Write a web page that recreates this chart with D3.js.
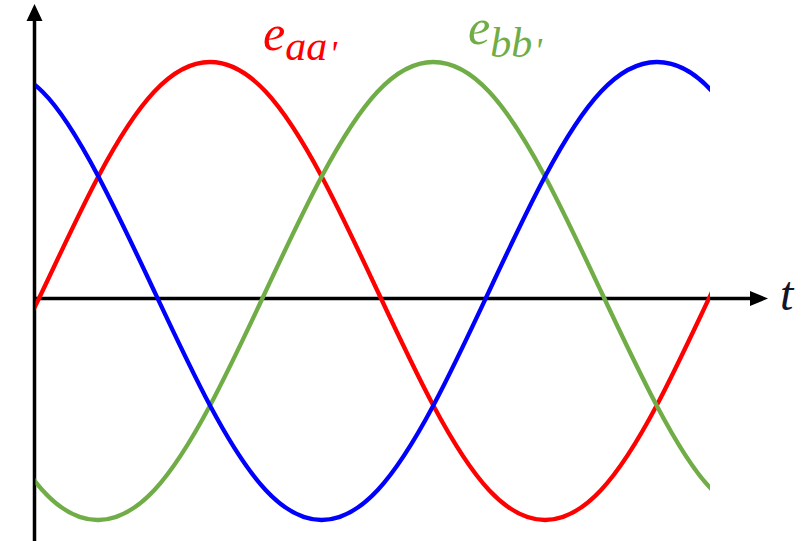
<!DOCTYPE html>
<html>
<head>
<meta charset="utf-8">
<script src="https://cdn.jsdelivr.net/npm/d3@7"></script>
<style>
body{margin:0;background:#fff;overflow:hidden}
</style>
</head>
<body>
<div id="Canvas"></div>
<script>
// 角度 (度) - every 30 degrees
let Angle = [-30,0,30,60,90,120,150,180,210,240,270,300,330,360,390]
// 三相電壓 values (normalized to peak = 1)
let Red_values   = [-0.5,0,0.5,0.87,1,0.87,0.5,0,-0.5,-0.87,-1,-0.87,-0.5,0,0.5]
let Green_values = [-0.5,-0.87,-1,-0.87,-0.5,0,0.5,0.87,1,0.87,0.5,0,-0.5,-0.87,-1]
let Blue_values  = [1,0.87,0.5,0,-0.5,-0.87,-1,-0.87,-0.5,0,0.5,0.87,1,0.87,0.5]
let Series_names = ["aa","bb"]

let svg = d3.select("#Canvas")
    .append("svg")
    .attr('width', 805)
    .attr('height', 541)

//線性轉換
let xScale = d3.scaleLinear()
    .domain([0,360])
    .range([42.5,712.5])
let yScale = d3.scaleLinear()
    .domain([-1,1])
    .range([520,62])

let Axis_x = 34.5
let Axis_y = 298.5

// clip so the waves start at the axis and stop at 710
svg.append("defs").append("clipPath")
    .attr("id","wave_clip")
    .append("rect")
    .attr("x",Axis_x+1)
    .attr("y",0)
    .attr("width",710-Axis_x-1)
    .attr("height",541)

//軸
svg.append("line")
    .attr("x1",Axis_x).attr("y1",541)
    .attr("x2",Axis_x).attr("y2",18)
    .style("stroke","#000").style("stroke-width",3.5)
svg.append("path")
    .attr("d",`M${Axis_x},4 L${Axis_x-8},21 L${Axis_x+8},21 Z`)
    .style("fill","#000")
svg.append("line")
    .attr("x1",Axis_x).attr("y1",Axis_y)
    .attr("x2",752).attr("y2",Axis_y)
    .style("stroke","#000").style("stroke-width",3.5)
svg.append("path")
    .attr("d",`M768,${Axis_y} L750,${Axis_y-7.5} L750,${Axis_y+7.5} Z`)
    .style("fill","#000")

//曲線
let line = d3.line()
    .x(d=>xScale(d[0]))
    .y(d=>yScale(d[1]))
    .curve(d3.curveNatural)

let Waves = [
    {color:"#ff0000", values:Red_values},
    {color:"#70ad47", values:Green_values},
    {color:"#0000ff", values:Blue_values}
]
svg.append("g")
    .attr("clip-path","url(#wave_clip)")
    .selectAll("path")
    .data(Waves)
    .enter()
    .append("path")
    .attr("d",d=>line(Angle.map((a,i)=>[a,d.values[i]])))
    .style("fill","none")
    .style("stroke",d=>d.color)
    .style("stroke-width",4.3)

//標籤  e 加下標
let Labels = [
    {x:263, y:50, dy:10, color:"#ff0000", sub:Series_names[0]},
    {x:468, y:44, dy:13, color:"#70ad47", sub:Series_names[1]}
]
Labels.forEach(l=>{
    let t = svg.append("text")
        .attr("x",l.x).attr("y",l.y)
        .style("font-family","Liberation Serif")
        .style("font-style","italic")
        .style("fill",l.color)
    t.append("tspan").style("font-size","50px").text("e")
    t.append("tspan").attr("dy",l.dy).attr("dx",0).style("font-size","42px").text(l.sub)
    t.append("tspan").attr("dy",6).attr("dx",2).style("font-size","36px").text("'")
})
svg.append("text")
    .attr("x",780).attr("y",310)
    .style("font-family","Liberation Serif")
    .style("font-style","italic")
    .style("font-size","48px")
    .style("fill","#141428")
    .text("t")
</script>
</body>
</html>
